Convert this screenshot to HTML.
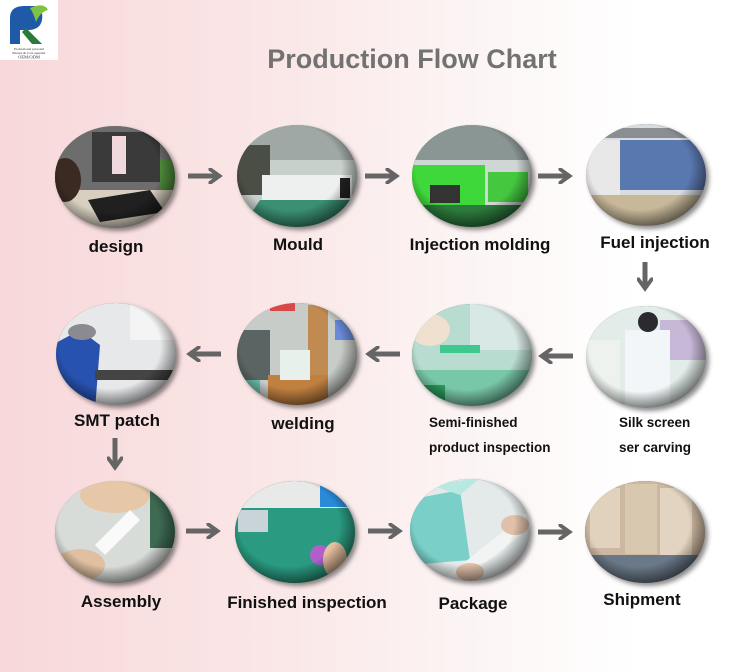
<!DOCTYPE html>
<html><head><meta charset="utf-8">
<style>
html,body{margin:0;padding:0;}
body{width:750px;height:672px;overflow:hidden;position:relative;
background:linear-gradient(90deg,#f8d8da 0%,#fae6e6 35%,#fcf3f3 60%,#ffffff 85%);
font-family:"Liberation Sans","DejaVu Sans",sans-serif;}
.lbl{position:absolute;font-weight:bold;color:#111;font-size:17px;white-space:nowrap;transform:translate(-50%,-50%);}
.sm{position:absolute;font-weight:bold;color:#111;font-size:13.5px;white-space:nowrap;}
svg{position:absolute;left:0;top:0;}
</style></head><body>
<svg width="750" height="672" viewBox="0 0 750 672">
<defs>
<filter id="sh" x="-20%" y="-20%" width="140%" height="140%"><feDropShadow dx="3" dy="3" stdDeviation="2.5" flood-color="#000" flood-opacity="0.45"/></filter>
<radialGradient id="vig" cx="45%" cy="42%" r="60%"><stop offset="70%" stop-color="#000" stop-opacity="0"/><stop offset="100%" stop-color="#000" stop-opacity="0.55"/></radialGradient>
<clipPath id="c1"><ellipse cx="115" cy="177" rx="60" ry="51"/></clipPath>
<clipPath id="c2"><ellipse cx="297" cy="176" rx="60" ry="51"/></clipPath>
<clipPath id="c3"><ellipse cx="472" cy="176" rx="60" ry="51"/></clipPath>
<clipPath id="c4"><ellipse cx="646" cy="175" rx="60" ry="51"/></clipPath>
<clipPath id="c5"><ellipse cx="116" cy="354" rx="60" ry="51"/></clipPath>
<clipPath id="c6"><ellipse cx="297" cy="354" rx="60" ry="51"/></clipPath>
<clipPath id="c7"><ellipse cx="472" cy="355" rx="60" ry="51"/></clipPath>
<clipPath id="c8"><ellipse cx="646" cy="357" rx="60" ry="51"/></clipPath>
<clipPath id="c9"><ellipse cx="115" cy="532" rx="60" ry="51"/></clipPath>
<clipPath id="c10"><ellipse cx="295" cy="532" rx="60" ry="51"/></clipPath>
<clipPath id="c11"><ellipse cx="470" cy="530" rx="60" ry="51"/></clipPath>
<clipPath id="c12"><ellipse cx="645" cy="532" rx="60" ry="51"/></clipPath>
<marker id="ah" viewBox="0 0 10 10" refX="6" refY="5" markerWidth="3.2" markerHeight="3.2" orient="auto"><path d="M0,0 L7,5 L0,10" fill="none" stroke="#656565" stroke-width="2.4"/></marker>
</defs>

<!-- logo -->
<rect x="0" y="0" width="58" height="60" fill="#fff"/>
<path d="M10,44 L10,18 Q10,6 24,6 L34,6 Q44,8 42,20 Q40,30 28,30 L20,30 L20,44 Z" fill="#1e5aa8"/>
<path d="M26,28 L42,44 L32,44 L22,32 Z" fill="#2a7a3a"/>
<path d="M30,8 Q44,2 48,10 Q40,12 36,22 Q34,14 30,8Z" fill="#7fc241"/>
<text x="29" y="50" font-size="3.5" text-anchor="middle" fill="#333" font-family="Liberation Serif">Professional personal</text>
<text x="29" y="54" font-size="3.5" text-anchor="middle" fill="#333" font-family="Liberation Serif">Beauty &amp; Care supplier</text>
<text x="29" y="58.5" font-size="4.5" text-anchor="middle" fill="#333" font-family="Liberation Serif">OEM/ODM</text>

<text x="412" y="68" font-size="27" font-weight="bold" fill="#727272" text-anchor="middle" font-family="Liberation Sans">Production Flow Chart</text>

<!-- circles -->
<g filter="url(#sh)">
<ellipse cx="115" cy="177" rx="60" ry="51" fill="#555"/>
<ellipse cx="297" cy="176" rx="60" ry="51" fill="#555"/>
<ellipse cx="472" cy="176" rx="60" ry="51" fill="#555"/>
<ellipse cx="646" cy="175" rx="60" ry="51" fill="#555"/>
<ellipse cx="116" cy="354" rx="60" ry="51" fill="#555"/>
<ellipse cx="297" cy="354" rx="60" ry="51" fill="#555"/>
<ellipse cx="472" cy="355" rx="60" ry="51" fill="#555"/>
<ellipse cx="646" cy="357" rx="60" ry="51" fill="#555"/>
<ellipse cx="115" cy="532" rx="60" ry="51" fill="#555"/>
<ellipse cx="295" cy="532" rx="60" ry="51" fill="#555"/>
<ellipse cx="470" cy="530" rx="60" ry="51" fill="#555"/>
<ellipse cx="645" cy="532" rx="60" ry="51" fill="#555"/>
</g>

<!-- design -->
<g clip-path="url(#c1)">
<rect x="50" y="120" width="130" height="120" fill="#d8cfc0"/>
<rect x="50" y="120" width="130" height="70" fill="#6d6d6d"/>
<rect x="92" y="132" width="68" height="50" fill="#3a3a3a"/>
<rect x="112" y="136" width="14" height="38" fill="#f0d8dc"/>
<polygon points="88,200 150,190 165,212 100,222" fill="#202020"/>
<ellipse cx="65" cy="180" rx="16" ry="22" fill="#3b2a22"/>
<rect x="160" y="160" width="20" height="30" fill="#4f8a3a"/>
</g>
<!-- mould -->
<g clip-path="url(#c2)">
<rect x="230" y="120" width="135" height="120" fill="#c8d0cc"/>
<rect x="230" y="120" width="135" height="40" fill="#9fa8a4"/>
<rect x="230" y="145" width="40" height="50" fill="#4a4e44"/>
<rect x="262" y="175" width="90" height="30" fill="#eef0f0"/>
<polygon points="240,230 260,200 365,200 365,230" fill="#3a8f72"/>
<rect x="340" y="178" width="10" height="20" fill="#222"/>
</g>
<!-- injection -->
<g clip-path="url(#c3)">
<rect x="405" y="120" width="135" height="120" fill="#cfd6d4"/>
<rect x="405" y="120" width="135" height="40" fill="#8a9694"/>
<rect x="410" y="165" width="75" height="40" fill="#3fd83a"/>
<rect x="488" y="172" width="40" height="30" fill="#45c840"/>
<rect x="405" y="205" width="135" height="30" fill="#2c7a3c"/>
<rect x="430" y="185" width="30" height="18" fill="#333"/>
</g>
<!-- fuel -->
<g clip-path="url(#c4)">
<rect x="580" y="120" width="135" height="120" fill="#d8dcdf"/>
<rect x="620" y="140" width="90" height="50" fill="#5a78b0"/>
<rect x="580" y="140" width="40" height="60" fill="#e8e8e8"/>
<rect x="580" y="195" width="135" height="30" fill="#c8b89a"/>
<rect x="580" y="128" width="135" height="10" fill="#8a8e90"/>
</g>
<!-- smt -->
<g clip-path="url(#c5)">
<rect x="50" y="300" width="135" height="110" fill="#e6e8ea"/>
<rect x="130" y="300" width="50" height="40" fill="#f4f4f4"/>
<polygon points="52,345 80,330 100,345 95,410 52,410" fill="#2852b0"/>
<ellipse cx="82" cy="332" rx="14" ry="8" fill="#8a8a90"/>
<rect x="95" y="370" width="80" height="10" fill="#444"/>
</g>
<!-- welding -->
<g clip-path="url(#c6)">
<rect x="230" y="300" width="135" height="110" fill="#c8ccc8"/>
<rect x="230" y="330" width="40" height="50" fill="#5a6462"/>
<rect x="308" y="305" width="20" height="70" fill="#c08a50"/>
<rect x="268" y="375" width="60" height="40" fill="#c08040"/>
<rect x="280" y="350" width="30" height="30" fill="#e8f0ec"/>
<rect x="335" y="320" width="20" height="20" fill="#6a8ad8"/>
<rect x="230" y="380" width="30" height="30" fill="#6ac0a8"/>
<rect x="270" y="303" width="25" height="8" fill="#d84848"/>
</g>
<!-- semi -->
<g clip-path="url(#c7)">
<rect x="405" y="300" width="135" height="115" fill="#b8dcd0"/>
<rect x="470" y="300" width="70" height="50" fill="#d8e8e4"/>
<rect x="405" y="370" width="135" height="45" fill="#78c8a8"/>
<ellipse cx="430" cy="330" rx="20" ry="16" fill="#f0e0d0"/>
<rect x="440" y="345" width="40" height="8" fill="#3ec890"/>
<rect x="415" y="385" width="30" height="30" fill="#2a9a5a"/>
</g>
<!-- silk -->
<g clip-path="url(#c8)">
<rect x="580" y="300" width="135" height="115" fill="#e2ece8"/>
<rect x="660" y="320" width="50" height="40" fill="#c8b8d8"/>
<rect x="580" y="340" width="40" height="70" fill="#eef2ee"/>
<rect x="625" y="330" width="45" height="85" fill="#f2f6f8"/>
<circle cx="648" cy="322" r="10" fill="#2a2a30"/>
</g>
<!-- assembly -->
<g clip-path="url(#c9)">
<rect x="50" y="478" width="135" height="110" fill="#d8dcd8"/>
<rect x="150" y="478" width="35" height="70" fill="#3e6a52"/>
<ellipse cx="115" cy="495" rx="35" ry="18" fill="#e6c8a8"/>
<polygon points="95,545 130,510 140,520 105,555" fill="#fafafa"/>
<ellipse cx="80" cy="565" rx="25" ry="16" fill="#e0c0a0"/>
</g>
<!-- finished -->
<g clip-path="url(#c10)">
<rect x="230" y="478" width="135" height="110" fill="#2a9a80"/>
<rect x="230" y="478" width="135" height="30" fill="#e8eaea"/>
<rect x="238" y="510" width="30" height="22" fill="#c8d4d8"/>
<rect x="320" y="482" width="30" height="25" fill="#2a8ad8"/>
<circle cx="320" cy="555" r="10" fill="#b060c8"/>
<ellipse cx="335" cy="560" rx="12" ry="18" fill="#e8c0a0"/>
</g>
<!-- package -->
<g clip-path="url(#c11)">
<rect x="405" y="475" width="135" height="110" fill="#e4eaea"/>
<polygon points="408,500 460,490 470,560 410,565" fill="#7ad0c8"/>
<polygon points="430,485 480,478 460,495" fill="#b8e8e2"/>
<polygon points="440,582 530,510 540,520 450,590" fill="#f2f4f4"/>
<ellipse cx="515" cy="525" rx="14" ry="10" fill="#e0c0a8"/>
<ellipse cx="470" cy="572" rx="14" ry="9" fill="#e0c0a8"/>
</g>
<!-- shipment -->
<g clip-path="url(#c12)">
<rect x="580" y="478" width="135" height="110" fill="#ccb8a0"/>
<rect x="590" y="488" width="30" height="60" fill="#e0d2bc"/>
<rect x="625" y="484" width="32" height="70" fill="#d8c8b0"/>
<rect x="660" y="488" width="32" height="68" fill="#e2d4c0"/>
<rect x="580" y="555" width="135" height="35" fill="#6a7888"/>
</g>

<!-- vignettes -->
<g>
<ellipse cx="115" cy="177" rx="60" ry="51" fill="url(#vig)"/>
<ellipse cx="297" cy="176" rx="60" ry="51" fill="url(#vig)"/>
<ellipse cx="472" cy="176" rx="60" ry="51" fill="url(#vig)"/>
<ellipse cx="646" cy="175" rx="60" ry="51" fill="url(#vig)"/>
<ellipse cx="116" cy="354" rx="60" ry="51" fill="url(#vig)"/>
<ellipse cx="297" cy="354" rx="60" ry="51" fill="url(#vig)"/>
<ellipse cx="472" cy="355" rx="60" ry="51" fill="url(#vig)"/>
<ellipse cx="646" cy="357" rx="60" ry="51" fill="url(#vig)"/>
<ellipse cx="115" cy="532" rx="60" ry="51" fill="url(#vig)"/>
<ellipse cx="295" cy="532" rx="60" ry="51" fill="url(#vig)"/>
<ellipse cx="470" cy="530" rx="60" ry="51" fill="url(#vig)"/>
<ellipse cx="645" cy="532" rx="60" ry="51" fill="url(#vig)"/>
</g>

<!-- arrows -->
<g stroke="#656565" stroke-width="5" fill="none" stroke-linecap="butt">
<path d="M188,176 L218,176" marker-end="url(#ah)"/>
<path d="M365,176 L395,176" marker-end="url(#ah)"/>
<path d="M538,176 L568,176" marker-end="url(#ah)"/>
<path d="M645,262 L645,287" marker-end="url(#ah)"/>
<path d="M221,354 L191,354" marker-end="url(#ah)"/>
<path d="M400,354 L370,354" marker-end="url(#ah)"/>
<path d="M573,356 L543,356" marker-end="url(#ah)"/>
<path d="M115,438 L115,466" marker-end="url(#ah)"/>
<path d="M186,531 L216,531" marker-end="url(#ah)"/>
<path d="M368,531 L398,531" marker-end="url(#ah)"/>
<path d="M538,532 L568,532" marker-end="url(#ah)"/>
</g>
</svg>

<div class="lbl" style="left:116px;top:247px">design</div>
<div class="lbl" style="left:298px;top:245px">Mould</div>
<div class="lbl" style="left:480px;top:245px">Injection molding</div>
<div class="lbl" style="left:655px;top:243px">Fuel injection</div>
<div class="lbl" style="left:117px;top:421px">SMT patch</div>
<div class="lbl" style="left:303px;top:424px">welding</div>
<div class="sm" style="left:429px;top:415px">Semi-finished</div>
<div class="sm" style="left:429px;top:440px">product inspection</div>
<div class="sm" style="left:619px;top:415px">Silk screen</div>
<div class="sm" style="left:619px;top:440px">ser carving</div>
<div class="lbl" style="left:121px;top:602px">Assembly</div>
<div class="lbl" style="left:307px;top:603px">Finished inspection</div>
<div class="lbl" style="left:473px;top:604px">Package</div>
<div class="lbl" style="left:642px;top:600px">Shipment</div>
</body></html>
